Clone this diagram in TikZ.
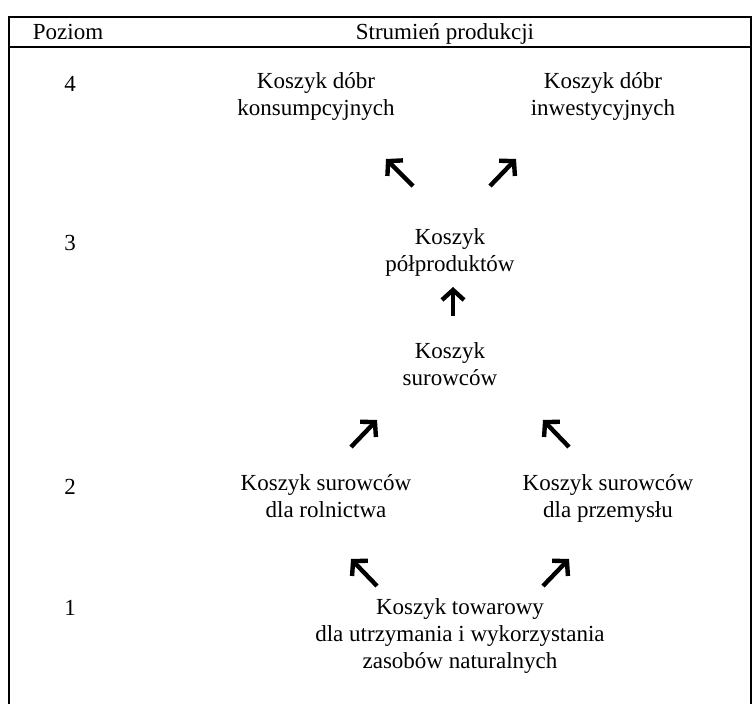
\documentclass[tikz,border=0pt]{standalone}
\usepackage{fontspec}
\setmainfont{Liberation Serif}
\usepackage{tikz}
\usetikzlibrary{arrows.meta, positioning}
\newcommand{\lvl}[1]{\strut#1\strut}

\begin{document}
\begin{tikzpicture}[x=1pt, y=-1pt]
    \tikzstyle{every node}=[font=\fontsize{23}{27}\selectfont, align=center, inner sep=0pt];
    \tikzstyle{frameline}=[line width=1.4pt];
    \tikzstyle{flowarrow}=[line width=4.4pt, -{Straight Barb[length=10pt, width=22pt]}];
    \useasboundingbox (0,0) rectangle (753,704);
    % table frame
    \draw[frameline] (9,704) -- (9,17) -- (751,17) -- (751,704);
    \draw[frameline] (9,47) -- (751,47);
    % header
    \node (hpoz) at (68,34) {\lvl{Poziom}};
    \node (hstr) at (445,34) {\lvl{Strumień produkcji}};
    % level markers
    \node (lev4) at (70,84) {4};
    \node (lev3) at (70,243) {3};
    \node (lev2) at (70,487) {2};
    \node (lev1) at (70,608) {1};
    % baskets
    \node (konsum)   at (316,97)  {\lvl{Koszyk dóbr}\\\lvl{konsumpcyjnych}};
    \node (inwest)   at (603,97)  {\lvl{Koszyk dóbr}\\\lvl{inwestycyjnych}};
    \node (polprod)  at (450,253) {\lvl{Koszyk}\\\lvl{półproduktów}};
    \node (surow)    at (450,367) {\lvl{Koszyk}\\\lvl{surowców}};
    \node (rolnic)   at (326,499) {\lvl{Koszyk surowców}\\\lvl{dla rolnictwa}};
    \node (przemysl) at (608,499) {\lvl{Koszyk surowców}\\\lvl{dla przemysłu}};
    \node (towar)    at (460,636) {\lvl{Koszyk towarowy}\\dla utrzymania i wykorzystania\\\lvl{zasobów naturalnych}};
    % arrow ends
    \coordinate (pk1) at (413,186); \coordinate (pk2) at (386,159);
    \coordinate (pi1) at (490,186); \coordinate (pi2) at (516,159);
    \coordinate (sp1) at (453,316); \coordinate (sp2) at (453,287);
    \coordinate (rs1) at (351,447); \coordinate (rs2) at (377,420);
    \coordinate (ps1) at (569,447); \coordinate (ps2) at (543,420);
    \coordinate (tr1) at (377,586); \coordinate (tr2) at (351,559);
    \coordinate (tp1) at (543,586); \coordinate (tp2) at (569,559);
    % flow
    \draw[flowarrow] (pk1) -- (pk2);
    \draw[flowarrow] (pi1) -- (pi2);
    \draw[flowarrow] (sp1) -- (sp2);
    \draw[flowarrow] (rs1) -- (rs2);
    \draw[flowarrow] (ps1) -- (ps2);
    \draw[flowarrow] (tr1) -- (tr2);
    \draw[flowarrow] (tp1) -- (tp2);
\end{tikzpicture}
\end{document}
